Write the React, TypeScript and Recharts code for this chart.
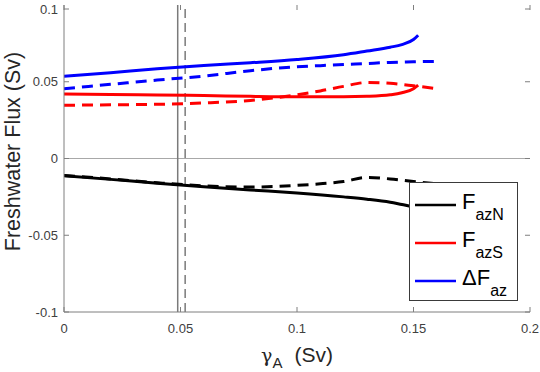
import React from "react";
import {
  LineChart,
  Line,
  XAxis,
  YAxis,
  ReferenceLine,
  Legend,
} from "recharts";

// gamma_A (Sv) sample points for the two runs
const gammaSolid = [0, 0.02, 0.04, 0.06, 0.08, 0.1, 0.12, 0.13, 0.14, 0.145, 0.15, 0.152];
const gammaDashed = [0, 0.02, 0.04, 0.06, 0.08, 0.1, 0.11, 0.12, 0.13, 0.14, 0.15, 0.16];

// solid run
const fazNSolid = [-0.0112, -0.0136, -0.0161, -0.0184, -0.0205, -0.0225, -0.025, -0.0265, -0.0285, -0.03, -0.0315, -0.032];
const fazSSolid = [0.042, 0.0417, 0.0414, 0.041, 0.0405, 0.0402, 0.0402, 0.0405, 0.0415, 0.0428, 0.0455, 0.0478];
const dFazSolid = [0.0535, 0.0559, 0.0584, 0.0606, 0.0624, 0.0645, 0.0676, 0.07, 0.0725, 0.0742, 0.0775, 0.0803];

// dashed run
const fazNDashed = [-0.011, -0.0133, -0.0158, -0.0178, -0.0186, -0.0175, -0.0165, -0.015, -0.0123, -0.0133, -0.015, -0.0165];
const fazSDashed = [0.0347, 0.035, 0.0353, 0.0362, 0.0378, 0.0415, 0.044, 0.047, 0.0495, 0.049, 0.0474, 0.0455];
const dFazDashed = [0.0455, 0.0483, 0.0511, 0.0537, 0.0572, 0.0598, 0.0605, 0.0612, 0.0619, 0.0626, 0.063, 0.0633];

const gammaMarkSolid = 0.0488;
const gammaMarkDashed = 0.052;

const xTicks = [0, 0.05, 0.1, 0.15, 0.2];
const yTicks = [-0.1, -0.05, 0, 0.05, 0.1];

const W = 540;
const H = 372;
const margin = { top: 5, right: 10, bottom: 0, left: 0 };
const plotTop = margin.top;
const plotRight = W - margin.right;

const font = "'Liberation Sans', Arial, Helvetica, sans-serif";
const axisColor = "#7f7f7f";
const textColor = "#404040";

const zip = (xs: number[], ys: number[]) => xs.map((x, i) => ({ x, y: ys[i] }));

const series = [
  { name: "F_azN", color: "#000000", solid: fazNSolid, dashed: fazNDashed },
  { name: "F_azS", color: "#ff0000", solid: fazSSolid, dashed: fazSDashed },
  { name: "ΔF_az", color: "#0000ff", solid: dFazSolid, dashed: dFazDashed },
];

const XTick = (props: any) => {
  const { x, y, payload } = props;
  return (
    <g>
      <line x1={x} x2={x} y1={y} y2={y - 5} stroke={axisColor} />
      <line x1={x} x2={x} y1={plotTop} y2={plotTop + 5} stroke={axisColor} />
      <text x={x} y={y + 21} textAnchor="middle" fontSize={13} fill={textColor} fontFamily={font}>
        {String(payload.value)}
      </text>
    </g>
  );
};

const YTick = (props: any) => {
  const { x, y, payload } = props;
  return (
    <g>
      <line x1={x} x2={x + 5} y1={y} y2={y} stroke={axisColor} />
      <line x1={plotRight - 5} x2={plotRight} y1={y} y2={y} stroke={axisColor} />
      <text x={x - 6} y={y + 4.5} textAnchor="end" fontSize={13} fill={textColor} fontFamily={font}>
        {String(payload.value)}
      </text>
    </g>
  );
};

const XLabel = (props: any) => {
  const vb = props.viewBox;
  const cx = vb.x + vb.width / 2;
  return (
    <text x={cx} y={362} textAnchor="middle" fontSize={21} fill="#262626" fontFamily={font}>
      <tspan fontFamily="'DejaVu Serif', serif" fontSize={19}>γ</tspan>
      <tspan fontSize={15} dy={6}>A</tspan>
      <tspan dy={-6} dx={12}>(Sv)</tspan>
    </text>
  );
};

const YLabel = (props: any) => {
  const vb = props.viewBox;
  const cy = vb.y + vb.height / 2 - 7;
  const bx = 19.5;
  return (
    <text
      x={bx}
      y={cy}
      transform={`rotate(-90 ${bx} ${cy})`}
      textAnchor="middle"
      fontSize={21.5}
      fill="#262626"
      fontFamily={font}
    >
      Freshwater Flux (Sv)
    </text>
  );
};

const LegendBox = (props: any) => {
  const items = (props.payload || []).filter((p: any) => p.type !== "none");
  return (
    <div
      style={{
        width: 109,
        height: 119,
        border: "1px solid #3a3a3a",
        background: "#fff",
        boxSizing: "border-box",
      }}
    >
      <svg width={107} height={117}>
        {items.map((p: any, i: number) => {
          const cy = 22 + i * 38;
          const [main, sub] = String(p.value).split("_");
          return (
            <g key={p.value}>
              <line x1={5} x2={46} y1={cy} y2={cy} stroke={p.color} strokeWidth={2.5} />
              <text x={52} y={cy + 4} fontSize={22} fill="#000" fontFamily={font}>
                <tspan>{main}</tspan>
                <tspan fontSize={16} dy={11}>{sub}</tspan>
              </text>
            </g>
          );
        })}
      </svg>
    </div>
  );
};

export default function App() {
  return (
    <div style={{ position: "absolute", left: 0, top: 0, width: W, height: H, background: "#fff" }}>
      <LineChart width={W} height={H} margin={margin}>
        <XAxis
          dataKey="x"
          type="number"
          domain={[0, 0.2]}
          ticks={xTicks}
          height={60}
          tickSize={0}
          tickMargin={0}
          tickLine={false}
          tick={<XTick />}
          axisLine={{ stroke: axisColor }}
          allowDataOverflow
          label={<XLabel />}
        />
        <XAxis
          xAxisId="top"
          orientation="top"
          type="number"
          domain={[0, 0.2]}
          height={0}
          tick={false}
          tickLine={false}
          axisLine={{ stroke: axisColor }}
        />
        <YAxis
          type="number"
          domain={[-0.1, 0.1]}
          ticks={yTicks}
          width={64}
          tickSize={0}
          tickMargin={0}
          tickLine={false}
          tick={<YTick />}
          axisLine={{ stroke: axisColor }}
          allowDataOverflow
          label={<YLabel />}
        />
        <YAxis
          yAxisId="right"
          orientation="right"
          type="number"
          domain={[-0.1, 0.1]}
          width={0}
          tick={false}
          tickLine={false}
          axisLine={{ stroke: axisColor }}
        />
        <ReferenceLine y={0} stroke="#a8a8a8" strokeWidth={1.2} />
        <ReferenceLine x={gammaMarkSolid} stroke="#7a7a7a" strokeWidth={1.5} />
        <ReferenceLine x={gammaMarkDashed} stroke="#7a7a7a" strokeWidth={1.5} strokeDasharray="9 5" />
        {series.map((s) => (
          <Line
            key={s.name + "-dashed"}
            data={zip(gammaDashed, s.dashed)}
            dataKey="y"
            name={s.name + "-dashed"}
            type="monotone"
            stroke={s.color}
            strokeWidth={3}
            strokeDasharray="11 7"
            dot={false}
            legendType="none"
            isAnimationActive={false}
          />
        ))}
        {series.map((s) => (
          <Line
            key={s.name}
            data={zip(gammaSolid, s.solid)}
            dataKey="y"
            name={s.name}
            type="monotone"
            stroke={s.color}
            strokeWidth={3}
            dot={false}
            isAnimationActive={false}
          />
        ))}
        <Legend
          layout="vertical"
          align="center"
          verticalAlign="middle"
          content={<LegendBox />}
          wrapperStyle={{ position: "absolute", left: 409, top: 182, width: 109, height: 119 }}
        />
      </LineChart>
    </div>
  );
}
